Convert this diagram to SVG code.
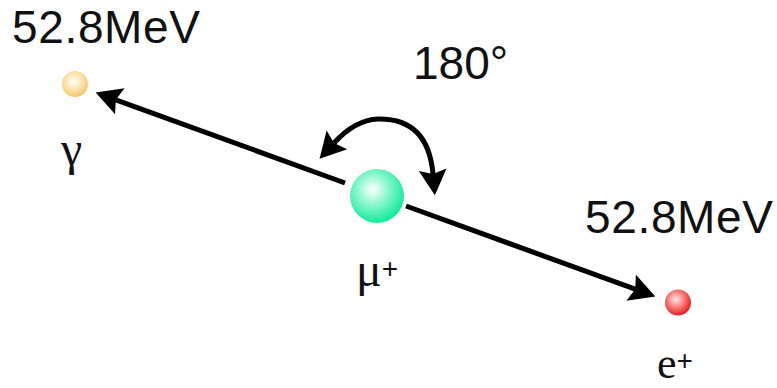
<svg xmlns="http://www.w3.org/2000/svg" width="777" height="388" viewBox="0 0 777 388">
<style>
.lbl{font-family:"Liberation Sans",Arial,sans-serif;font-size:46px;fill:#111}
.sym{font-family:"Liberation Serif","Times New Roman",serif;font-size:48px;fill:#111}
.sup{font-family:"Liberation Sans",Arial,sans-serif;font-size:28px}
.ln{fill:none;stroke:#000;stroke-width:5}
</style>
<defs>
<marker id="ah" markerUnits="userSpaceOnUse" markerWidth="30" markerHeight="30" viewBox="0 -14 26 28" refX="4" refY="0" orient="auto-start-reverse">
<path d="M0,-13 L24,0 L0,13 L4,0 z" fill="#000"/>
</marker>
<radialGradient id="gY" cx="0.45" cy="0.4" r="0.6">
<stop offset="0" stop-color="#ffffff"/>
<stop offset="0.6" stop-color="#fbe0a4"/>
<stop offset="1" stop-color="#f4c56a"/>
</radialGradient>
<radialGradient id="gG" cx="0.42" cy="0.38" r="0.62">
<stop offset="0" stop-color="#ffffff"/>
<stop offset="0.45" stop-color="#8cf7cf"/>
<stop offset="1" stop-color="#14ea9a"/>
</radialGradient>
<radialGradient id="gR" cx="0.42" cy="0.38" r="0.62">
<stop offset="0" stop-color="#ffe8e8"/>
<stop offset="0.5" stop-color="#fb7f7f"/>
<stop offset="1" stop-color="#e21f1f"/>
</radialGradient>
</defs>
<g id="connectors">
<path class="ln" d="M345,183 L115.8,99.8" marker-end="url(#ah)"/>
<path class="ln" d="M406,206 L635.2,289.2" marker-end="url(#ah)"/>
<path class="ln" d="M334,143 Q355,120 378,119 Q428,118 433,174" marker-start="url(#ah)" marker-end="url(#ah)"/>
</g>
<g id="gamma">
<circle cx="75" cy="84" r="13" fill="url(#gY)"/>
<text class="sym" x="61" y="165">γ</text>
</g>
<g id="muon">
<circle cx="377" cy="196" r="27" fill="url(#gG)"/>
<text class="sym" x="356" y="286">μ<tspan class="sup" dy="-8">+</tspan></text>
</g>
<g id="positron">
<circle cx="678" cy="302.5" r="13" fill="url(#gR)"/>
<text class="sym" x="657" y="378" style="font-size:44px">e<tspan class="sup" dy="-8">+</tspan></text>
</g>
<g id="labels">
<text class="lbl" x="12" y="43" textLength="188">52.8MeV</text>
<text class="lbl" x="585" y="233" textLength="188">52.8MeV</text>
<text class="lbl" x="413" y="79">180°</text>
</g>
</svg>
